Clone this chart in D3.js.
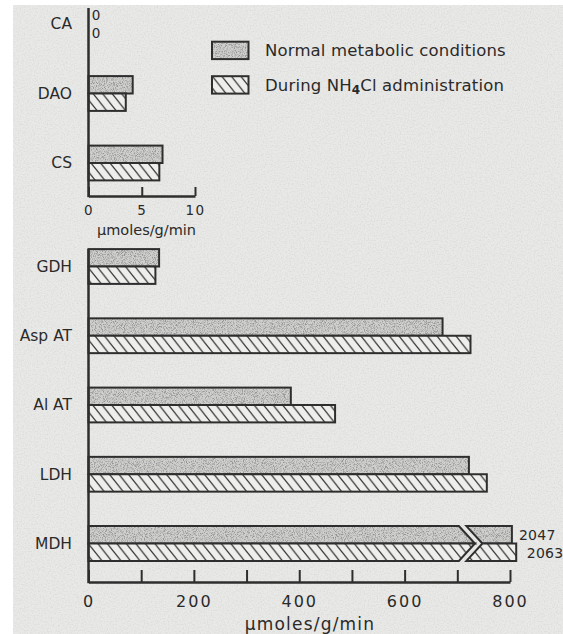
<!DOCTYPE html>
<html>
<head>
<meta charset="utf-8">
<script src="https://cdn.jsdelivr.net/npm/d3@7"></script>
<style>
  html, body { margin: 0; padding: 0; background: #ffffff; }
  svg { display: block; }
  text { font-family: "DejaVu Sans", sans-serif; fill: #2a2a2a; }
</style>
</head>
<body>
<svg id="chart" width="563" height="634"></svg>
<script>
// ---------------- data ----------------
const seriesNames = ["Normal metabolic conditions", "During NH4Cl administration"];
const axisTitle = "\u00b5moles/g/min";

// upper panel (small activities)
const topCategories = ["CA", "DAO", "CS"];
const topNormal = [0, 4.15, 6.95];
const topNH4Cl  = [0, 3.5, 6.65];
const topTicks = [0, 5, 10];

// lower panel (large activities)
const bottomCategories = ["GDH", "Asp AT", "Al AT", "LDH", "MDH"];
const bottomNormal = [134, 672, 384, 722, 2047];
const bottomNH4Cl  = [127, 725, 468, 756, 2063];
const bottomTicks = [0, 100, 200, 300, 400, 500, 600, 700, 800];
const bottomTickLabels = [0, 200, 400, 600, 800];
const axisMax = 800;        // values above this are drawn with a broken bar
const breakValue = 703;     // where the broken bars are interrupted
const brokenDomain = [2040, 2100]; // domain of the short segment after the break

// ---------------- setup ----------------
const svg = d3.select("#chart");
const ink = "#2e2e2e";

const defs = svg.append("defs");
const paperF = defs.append("filter").attr("id", "paper").attr("x", 0).attr("y", 0).attr("width", 1).attr("height", 1);
paperF.append("feTurbulence").attr("type", "fractalNoise").attr("baseFrequency", 0.7).attr("numOctaves", 2).attr("seed", 5).attr("result", "n");
paperF.append("feColorMatrix").attr("in", "n").attr("type", "matrix")
  .attr("values", "0 0 0 0 0.6  0 0 0 0 0.6  0 0 0 0 0.6  1.1 0 0 0 -0.45").attr("result", "d");
paperF.append("feComposite").attr("in", "d").attr("in2", "SourceGraphic").attr("operator", "in").attr("result", "di");
const pm = paperF.append("feMerge");
pm.append("feMergeNode").attr("in", "SourceGraphic");
pm.append("feMergeNode").attr("in", "di");

const stipF = defs.append("filter").attr("id", "stip").attr("x", 0).attr("y", 0).attr("width", 1).attr("height", 1);
stipF.append("feTurbulence").attr("type", "fractalNoise").attr("baseFrequency", 1.1).attr("numOctaves", 2).attr("seed", 3).attr("result", "n");
stipF.append("feColorMatrix").attr("in", "n").attr("type", "matrix")
  .attr("values", "0 0 0 0 0.3  0 0 0 0 0.3  0 0 0 0 0.3  3.2 0 0 0 -1.35").attr("result", "d");
stipF.append("feComposite").attr("in", "d").attr("in2", "SourceGraphic").attr("operator", "in").attr("result", "di");
const sm = stipF.append("feMerge");
sm.append("feMergeNode").attr("in", "SourceGraphic");
sm.append("feMergeNode").attr("in", "di");

const hw = 9.5, hh = 12;
const hatch = defs.append("pattern").attr("id", "hatch").attr("patternUnits", "userSpaceOnUse")
  .attr("width", hw).attr("height", hh);
hatch.append("rect").attr("width", hw).attr("height", hh).attr("fill", "#eeeeec");
hatch.append("path")
  .attr("d", `M${-hw},${-hh}L${2*hw},${2*hh}M0,${-hh}L${2*hw},${hh}M${-hw},0L${hw},${2*hh}`)
  .attr("stroke", "#3a3a3a").attr("stroke-width", 1.3).attr("fill", "none");

svg.append("rect").attr("x", 13).attr("y", 5).attr("width", 550).attr("height", 629)
  .attr("fill", "#e9e9e7").attr("filter", "url(#paper)");

const barH = 17.4;
const fills = ["#d0d0ce", "url(#hatch)"];

function drawBar(g, x0, x1, yTop, i) {
  if (x1 <= x0) return;
  if (i === 0) {
    g.append("rect").attr("x", x0).attr("y", yTop).attr("width", x1 - x0).attr("height", barH)
      .attr("fill", fills[0]).attr("filter", "url(#stip)");
    g.append("rect").attr("x", x0).attr("y", yTop).attr("width", x1 - x0).attr("height", barH)
      .attr("fill", "none").attr("stroke", ink).attr("stroke-width", 2);
  } else {
    g.append("rect").attr("x", x0).attr("y", yTop).attr("width", x1 - x0).attr("height", barH)
      .attr("fill", fills[1]).attr("stroke", ink).attr("stroke-width", 2);
  }
}

// ---------------- upper panel ----------------
const xTop = d3.scaleLinear().domain([0, 10]).range([88.5, 195]);
const yTop = d3.scalePoint().domain(topCategories).range([24, 163]);
const gTop = svg.append("g");

topCategories.forEach((c, k) => {
  const cy = yTop(c);
  [topNormal[k], topNH4Cl[k]].forEach((v, i) => {
    const y0 = cy - barH + i * barH;
    if (v === 0) {
      gTop.append("text").attr("x", xTop(0) + 7.5).attr("y", y0 + barH / 2)
        .attr("text-anchor", "middle").attr("dominant-baseline", "central")
        .attr("font-size", 13.5).text(d3.format("d")(v));
    } else {
      drawBar(gTop, xTop(0), xTop(v), y0, i);
    }
  });
});

const axTop = gTop.append("g").attr("transform", "translate(0,196)")
  .call(d3.axisBottom(xTop).tickValues(topTicks).tickSizeInner(-9).tickSizeOuter(0).tickPadding(9.5).tickFormat(d3.format("d")));
axTop.select(".domain").attr("stroke", ink).attr("stroke-width", 2.5);
axTop.selectAll(".tick line").attr("stroke", ink).attr("stroke-width", 2);
axTop.selectAll(".tick text").attr("font-size", 13.5).attr("letter-spacing", 1.5).attr("fill", "#2a2a2a").attr("font-family", "DejaVu Sans");
gTop.append("line").attr("x1", xTop(0)).attr("x2", xTop(0)).attr("y1", 8).attr("y2", 197.2)
  .attr("stroke", ink).attr("stroke-width", 2.5);

const axTopL = gTop.append("g").attr("transform", `translate(${xTop(0)},0)`)
  .call(d3.axisLeft(yTop).tickSize(0).tickPadding(16.5));
axTopL.select(".domain").remove();
axTopL.selectAll(".tick text").attr("font-size", 15.5).attr("fill", "#2a2a2a").attr("font-family", "DejaVu Sans");

gTop.append("text").attr("x", 146.5).attr("y", 230).attr("text-anchor", "middle")
  .attr("dominant-baseline", "central").attr("font-size", 14.5).text(axisTitle);

// ---------------- legend ----------------
const leg = svg.append("g");
const legY = [41.7, 76.2];
seriesNames.forEach((name, i) => {
  if (i === 0) {
    leg.append("rect").attr("x", 212).attr("y", legY[i]).attr("width", 36.5).attr("height", barH)
      .attr("fill", fills[0]).attr("filter", "url(#stip)");
    leg.append("rect").attr("x", 212).attr("y", legY[i]).attr("width", 36.5).attr("height", barH)
      .attr("fill", "none").attr("stroke", ink).attr("stroke-width", 2);
  } else {
    leg.append("rect").attr("x", 212).attr("y", legY[i]).attr("width", 36.5).attr("height", barH)
      .attr("fill", fills[1]).attr("stroke", ink).attr("stroke-width", 2);
  }
  const t = leg.append("text").attr("x", 265).attr("y", legY[i] + barH / 2 + 6)
    .attr("font-size", 16.5).attr("letter-spacing", 0.15);
  const m = name.match(/^(.*NH)(4)(Cl.*)$/);
  if (m) {
    t.append("tspan").text(m[1]);
    t.append("tspan").attr("font-size", 12).attr("font-weight", "bold").attr("dy", 3.5).text(m[2]);
    t.append("tspan").attr("dy", -3.5).text(m[3]);
  } else {
    t.text(name);
  }
});

// ---------------- lower panel ----------------
const xBot = d3.scaleLinear().domain([0, axisMax]).range([88.5, 510]);
const xBroken = d3.scaleLinear().domain(brokenDomain).range([xBot(axisMax), xBot(axisMax) + 16.2]);
const yBot = d3.scalePoint().domain(bottomCategories).range([266.5, 543.5]);
const gBot = svg.append("g");
const chev = 16, gap = 7.5;

bottomCategories.forEach((c, k) => {
  const cy = yBot(c);
  const vals = [bottomNormal[k], bottomNH4Cl[k]];
  if (vals.some(v => v > axisMax)) {
    const xb = xBot(breakValue);
    vals.forEach((v, i) => {
      const y0 = cy - barH + i * barH;
      const y1 = y0 + barH;
      const xe = xBroken(v);
      const leftPts = i === 0
        ? [[xBot(0), y0], [xb, y0], [xb + chev, y1], [xBot(0), y1]]
        : [[xBot(0), y0], [xb + chev, y0], [xb, y1], [xBot(0), y1]];
      const rightPts = i === 0
        ? [[xb + gap, y0], [xe, y0], [xe, y1], [xb + gap + chev, y1]]
        : [[xb + gap + chev, y0], [xe, y0], [xe, y1], [xb + gap, y1]];
      [leftPts, rightPts].forEach(pts => {
        const d = d3.line()(pts) + "Z";
        if (i === 0) {
          gBot.append("path").attr("d", d).attr("fill", fills[0]).attr("filter", "url(#stip)");
          gBot.append("path").attr("d", d).attr("fill", "none").attr("stroke", ink).attr("stroke-width", 2).attr("stroke-linejoin", "miter");
        } else {
          gBot.append("path").attr("d", d).attr("fill", fills[1]).attr("stroke", ink).attr("stroke-width", 2);
        }
      });
      gBot.append("text").attr("x", xe + 7 + i * 3.5).attr("y", (y0 + y1) / 2 + 0.5)
        .attr("dominant-baseline", "central").attr("font-size", 14).attr("letter-spacing", 0.3)
        .text(v);
    });
  } else {
    vals.forEach((v, i) => {
      drawBar(gBot, xBot(0), xBot(v), cy - barH + i * barH, i);
    });
  }
});

const axBot = gBot.append("g").attr("transform", "translate(0,582)")
  .call(d3.axisBottom(xBot).tickValues(bottomTicks).tickSizeInner(-12).tickSizeOuter(0).tickPadding(14)
    .tickFormat(d => bottomTickLabels.includes(d) ? d3.format("d")(d) : ""));
axBot.select(".domain").attr("stroke", ink).attr("stroke-width", 2.5);
axBot.selectAll(".tick line").attr("stroke", ink).attr("stroke-width", 2);
axBot.selectAll(".tick text").attr("font-size", 16).attr("letter-spacing", 2).attr("fill", "#2a2a2a").attr("font-family", "DejaVu Sans");
gBot.append("line").attr("x1", xBot(0)).attr("x2", xBot(0)).attr("y1", 249).attr("y2", 583.2)
  .attr("stroke", ink).attr("stroke-width", 2.5);

const axBotL = gBot.append("g").attr("transform", `translate(${xBot(0)},0)`)
  .call(d3.axisLeft(yBot).tickSize(0).tickPadding(16.5));
axBotL.select(".domain").remove();
axBotL.selectAll(".tick text").attr("font-size", 15.5).attr("fill", "#2a2a2a").attr("font-family", "DejaVu Sans");

gBot.append("text").attr("x", 310).attr("y", 624).attr("text-anchor", "middle")
  .attr("dominant-baseline", "central").attr("font-size", 17).attr("letter-spacing", 1.2).text(axisTitle);
</script>
</body>
</html>
